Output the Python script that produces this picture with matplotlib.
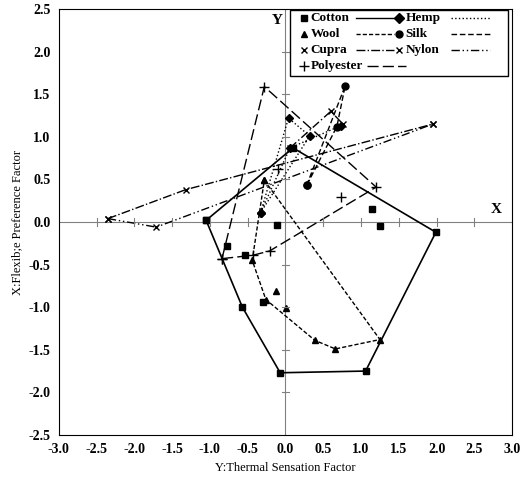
import matplotlib
matplotlib.use('Agg')
import matplotlib.pyplot as plt

plt.rcParams['font.family'] = 'Liberation Serif'
plt.rcParams['font.weight'] = 'bold'

cotton_poly = [(-1.05, 0.02), (0.10, 0.87), (1.99, -0.12), (1.06, -1.75), (-0.07, -1.77), (-0.57, -1.00), (-1.05, 0.02)]
cotton_pts = [(1.15, 0.15), (1.25, -0.05), (-0.11, -0.04), (-0.78, -0.28), (-0.53, -0.39), (-0.30, -0.94)]
wool_poly = [(-0.28, 0.49), (1.25, -1.38), (0.66, -1.49), (0.39, -1.39), (-0.26, -0.91), (-0.44, -0.45), (-0.28, 0.49)]
wool_pts = [(-0.12, -0.81), (0.01, -1.01)]
hemp_poly = [(-0.33, 0.11), (0.04, 1.22), (0.32, 1.01), (-0.33, 0.11), (0.06, 0.87), (0.73, 1.13)]
silk_poly = [(0.28, 0.43), (0.79, 1.60), (0.68, 1.12), (0.28, 0.43)]
cupra_poly = [(-2.35, 0.04), (-1.32, 0.38), (1.95, 1.15)]
nylon_poly = [(-2.35, 0.04), (-1.71, -0.06), (1.95, 1.15)]
nylon_pts = [(0.06, 0.87), (0.60, 1.30), (0.76, 1.15)]
poly_poly = [(-0.84, -0.43), (-0.28, 1.59), (1.20, 0.41), (-0.21, -0.34), (-0.43, -0.39), (-0.84, -0.43)]
poly_pts = [(-0.10, 0.62), (0.73, 0.29)]

fig = plt.figure(figsize=(5.2, 4.79), dpi=100)
ax = fig.add_axes([0.113, 0.092, 0.872, 0.889])

def draw(pts, marker, ls, ms=5, lw=1.0):
    xs, ys = zip(*pts)
    ax.plot(xs, ys, color='k', ls=ls, lw=lw, marker=marker, ms=ms, mew=1)

draw(cotton_poly, 's', '-', lw=1.2)
draw(cotton_pts, 's', 'none')
draw(wool_poly, '^', (0, (3, 1.5)))
draw(wool_pts, '^', 'none')
draw(hemp_poly, 'D', ':', ms=4)
draw(silk_poly, 'o', (0, (4, 2)))
draw(cupra_poly, 'x', '-.')
draw(nylon_poly, 'x', (0, (6, 2, 1, 2, 1, 2)))
draw(nylon_pts, 'x', (0, (6, 2, 1, 2)))
draw(poly_poly, '+', (0, (8, 3)), ms=7)
draw(poly_pts, '+', 'none', ms=7)

ax.axhline(0, color='gray', lw=0.8, zorder=0)
ax.axvline(0, color='gray', lw=0.8, zorder=0)
for t in [-2.5, -2, -1.5, -1, -0.5, 0.5, 1, 1.5, 2, 2.5]:
    ax.plot([t, t], [-0.05, 0.05], color='gray', lw=0.8)
for t in [-2, -1.5, -1, -0.5, 0.5, 1, 1.5, 2]:
    ax.plot([-0.04, 0.04], [t, t], color='gray', lw=0.8)
ax.text(2.72, 0.1, 'X', fontsize=11)
ax.text(-0.18, 2.32, 'Y', fontsize=11)

ax.set_xlim(-3, 3)
ax.set_ylim(-2.5, 2.5)
ax.set_xticks([-3 + 0.5 * i for i in range(13)])
ax.set_yticks([-2.5 + 0.5 * i for i in range(11)])
ax.xaxis.set_major_formatter(matplotlib.ticker.FormatStrFormatter('%.1f'))
ax.yaxis.set_major_formatter(matplotlib.ticker.FormatStrFormatter('%.1f'))
ax.tick_params(labelsize=10, length=0, pad=6)
ax.set_xlabel('Y:Thermal Sensation Factor', fontsize=9)
ax.set_ylabel('X:Flexib;e Preference Factor', fontsize=9)

# legend box drawn by hand
ax.add_patch(plt.Rectangle((0.51, 0.842), 0.48, 0.155, transform=ax.transAxes,
                           fill=True, fc='white', ec='k', lw=1, zorder=5))
entries = [('Cotton', 's', '-', 0, 0), ('Hemp', 'D', ':', 1, 0),
           ('Wool', '^', (0, (3, 1.5)), 0, 1), ('Silk', 'o', (0, (4, 2)), 1, 1),
           ('Cupra', 'x', '-.', 0, 2), ('Nylon', 'x', (0, (6, 2, 1, 2, 1, 2)), 1, 2),
           ('Polyester', '+', (0, (8, 3)), 0, 3)]
for name, m, ls, col, row in entries:
    x0 = 0.54 + col * 0.21
    y0 = 0.978 - row * 0.037
    ax.plot([x0], [y0], marker=m, color='k', ms=5 if m != '+' else 7, transform=ax.transAxes, zorder=6)
    ax.text(x0 + 0.015, y0, name, fontsize=9.5, va='center', transform=ax.transAxes, zorder=6)
    lx = x0 + (0.115 if name != 'Polyester' else 0.14)
    ax.plot([lx, lx + 0.085], [y0, y0], color='k', ls=ls, lw=1, transform=ax.transAxes, zorder=6)

fig.savefig('out.png')
